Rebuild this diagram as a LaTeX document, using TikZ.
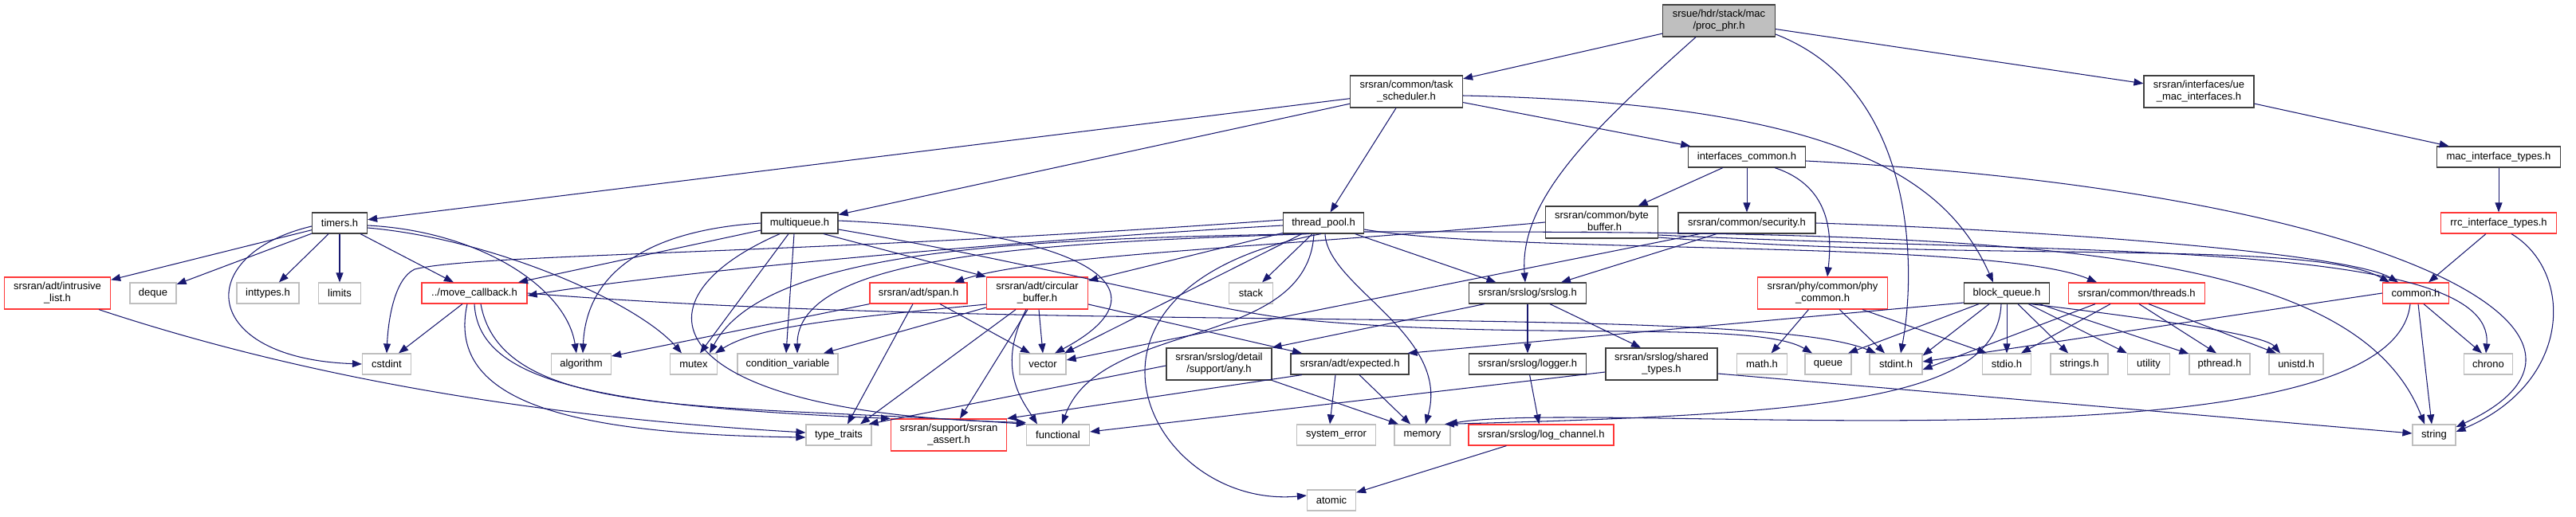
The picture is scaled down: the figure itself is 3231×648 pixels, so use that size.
\documentclass[tikz,border=0pt]{standalone}
\usepackage{fontspec}
\setmainfont{Liberation Sans}
\usetikzlibrary{arrows.meta}
\definecolor{mb}{HTML}{191970}
\definecolor{gb}{HTML}{BFBFBF}
\definecolor{rb}{HTML}{FF3838}
\definecolor{db}{HTML}{404040}
\newcommand\nf{\fontsize{13}{15}\selectfont}
\begin{document}
\begin{tikzpicture}[x=1pt,y=-1pt,
 nb/.style={draw=db, line width=1.2pt, fill=white, minimum height=26pt, inner sep=0pt, font=\nf, align=center, text=black},
 ng/.style={nb, draw=gb},
 nr/.style={nb, draw=rb},
 tl/.style={minimum height=40pt},
 e/.style={draw=mb, line width=1.05pt, -{Triangle[length=12pt,width=9pt]}}]
\fill[white] (0,0) rectangle (3231,648);
\useasboundingbox (0,0) rectangle (3231,648);
% level 0-3
\node[nb,fill=gb,tl,minimum width=141pt] (proc) at (2156,26) {srsue/hdr/stack/mac\\/proc\_phr.h};
\node[nb,tl,minimum width=141pt] (task) at (1764,115) {srsran/common/task\\\_scheduler.h};
\node[nb,tl,minimum width=138pt] (uemac) at (2758,115) {srsran/interfaces/ue\\\_mac\_interfaces.h};
\node[nb,minimum width=147pt] (ifc) at (2191,197) {interfaces\_common.h};
\node[nb,minimum width=155pt] (mact) at (3134,197) {mac\_interface\_types.h};
\node[nb,minimum width=69pt] (timers) at (426,280) {timers.h};
\node[nb,minimum width=96pt] (mq) at (1003,280) {multiqueue.h};
\node[nb,minimum width=101pt] (tp) at (1660,280) {thread\_pool.h};
\node[nb,tl,minimum width=141pt] (bb) at (2009,279) {srsran/common/byte\\\_buffer.h};
\node[nb,minimum width=172pt] (sec) at (2191,280) {srsran/common/security.h};
\node[nr,minimum width=145pt] (rrc) at (3134,280) {rrc\_interface\_types.h};
% level 4
\node[nr,tl,minimum width=133pt] (intr) at (72,368) {srsran/adt/intrusive\\\_list.h};
\node[ng,minimum width=58pt] (deque) at (192,368) {deque};
\node[ng,minimum width=78pt] (inttypes) at (336,368) {inttypes.h};
\node[ng,minimum width=53pt] (limits) at (426,368) {limits};
\node[nr,minimum width=132pt] (movecb) at (595,368) {../move\_callback.h};
\node[nr,minimum width=122pt] (span) at (1152,368) {srsran/adt/span.h};
\node[nr,tl,minimum width=127pt] (circ) at (1301,368) {srsran/adt/circular\\\_buffer.h};
\node[ng,minimum width=55pt] (stack) at (1569,368) {stack};
\node[nb,minimum width=147pt] (srslog) at (1916,368) {srsran/srslog/srslog.h};
\node[nr,tl,minimum width=163pt] (phy) at (2286,368) {srsran/phy/common/phy\\\_common.h};
\node[nb,minimum width=107pt] (bq) at (2517,368) {block\_queue.h};
\node[nr,minimum width=171pt] (threads) at (2680,368) {srsran/common/threads.h};
\node[nr,minimum width=83pt] (common) at (3030,368) {common.h};
% level 5
\node[ng,minimum width=61pt] (cstdint) at (485,457) {cstdint};
\node[ng,minimum width=75pt] (algorithm) at (729,457) {algorithm};
\node[ng,minimum width=59pt] (mutex) at (870,457) {mutex};
\node[ng,minimum width=126pt] (condvar) at (988,457) {condition\_variable};
\node[ng,minimum width=58pt] (vector) at (1308,457) {vector};
\node[nb,tl,minimum width=132pt] (any) at (1529,457) {srsran/srslog/detail\\/support/any.h};
\node[nb,minimum width=148pt] (expected) at (1693,457) {srsran/adt/expected.h};
\node[nb,minimum width=147pt] (logger) at (1916,457) {srsran/srslog/logger.h};
\node[nb,tl,minimum width=140pt] (shared) at (2084,457) {srsran/srslog/shared\\\_types.h};
\node[ng,minimum width=63pt] (math) at (2210,457) {math.h};
\node[ng,minimum width=58pt] (queue) at (2293,457) {queue};
\node[ng,minimum width=66pt] (stdinth) at (2378,457) {stdint.h};
\node[ng,minimum width=61pt] (stdio) at (2517,457) {stdio.h};
\node[ng,minimum width=72pt] (strings) at (2608,457) {strings.h};
\node[ng,minimum width=53pt] (utility) at (2695,457) {utility};
\node[ng,minimum width=76pt] (pthread) at (2784,457) {pthread.h};
\node[ng,minimum width=68pt] (unistd) at (2880,457) {unistd.h};
\node[ng,minimum width=61pt] (chrono) at (3121,457) {chrono};
% level 6-7
\node[ng,minimum width=82pt] (typetraits) at (1052,546) {type\_traits};
\node[nr,tl,minimum width=145pt] (assert) at (1190,546) {srsran/support/srsran\\\_assert.h};
\node[ng,minimum width=79pt] (functional) at (1327,546) {functional};
\node[ng,minimum width=99pt] (syserr) at (1676,546) {system\_error};
\node[ng,minimum width=70pt] (memory) at (1784,546) {memory};
\node[nr,minimum width=182pt] (logch) at (1933,546) {srsran/srslog/log\_channel.h};
\node[ng,minimum width=54pt] (string) at (3053,546) {string};
\node[ng,minimum width=61pt] (atomic) at (1670,628) {atomic};

% proc
\draw[e] (proc) -- (task);
\draw[e] (proc) -- (uemac);
\draw[e] ([xshift=-29pt]proc.south) .. controls (2000,160) and (1905,250) .. ([xshift=-3pt]srslog.north);
\draw[e] ([yshift=-17pt]proc.east) .. controls (2400,110) and (2405,330) .. ([xshift=6pt]stdinth.north);
% task
\draw[e] (task) -- (timers);
\draw[e] (task) -- (mq);
\draw[e] (task) -- (tp);
\draw[e] (task) -- (ifc);
\draw[e] ([yshift=-5pt]task.east) .. controls (2300,130) and (2440,220) .. ([xshift=-17pt]bq.north);
\draw[e] (uemac) -- (mact);
\draw[e] (mact) -- (rrc);
\draw[e] (rrc) -- (common);
\draw[e] ([xshift=16pt]rrc.south) .. controls (3228,340) and (3228,480) .. ([yshift=4pt]string.east);
% ifc
\draw[e] (ifc) -- (bb);
\draw[e] (ifc) -- (sec);
\draw[e] ([xshift=35pt]ifc.south) .. controls (2300,235) and (2297,300) .. ([xshift=6pt]phy.north);
\draw[e] ([yshift=-5pt]ifc.east) .. controls (3000,240) and (3330,420) .. ([yshift=10pt]string.east);
% timers
\draw[e] (timers) -- (intr);
\draw[e] (timers) -- (deque);
\draw[e] ([yshift=-4pt]timers.west) .. controls (240,320) and (250,450) .. (cstdint.west);
\draw[e] (timers) -- (inttypes);
\draw[e] (timers) -- (limits);
\draw[e] (timers) -- (movecb);
\draw[e] ([yshift=-3pt]timers.east) .. controls (600,290) and (710,360) .. ([xshift=-6pt]algorithm.north);
\draw[e] ([yshift=-6pt]timers.east) .. controls (620,300) and (800,380) .. ([xshift=-15pt]mutex.north);
% multiqueue
\draw[e] ([yshift=-9pt]mq.west) -- ([xshift=55pt]movecb.north);
\draw[e] (mq.west) .. controls (800,290) and (735,350) .. ([xshift=2pt]algorithm.north);
\draw[e] ([xshift=-14pt]mq.south) -- ([xshift=8pt]mutex.north);
\draw[e] ([xshift=-7pt]mq.south) -- ([xshift=-2pt]condvar.north);
\draw[e] ([xshift=30pt]mq.south) -- (circ.north west);
\draw[e] ([yshift=3pt]mq.east) .. controls (1350,290) and (1480,360) .. ([xshift=15pt]vector.north);
\draw[e] ([xshift=-25pt]mq.south) .. controls (780,380) and (830,520) .. ([yshift=2pt]functional.north west);
\draw[e] ([yshift=-8pt]mq.east) .. controls (1300,330) and (1500,385) .. (1610,399) .. controls (1900,430) and (2200,400) .. ([xshift=-20pt]queue.north);
% thread_pool
\draw[e] ([yshift=-3pt]tp.west) .. controls (1300,300) and (850,340) .. ([yshift=-3pt]movecb.east);
\draw[e] ([yshift=4pt]tp.west) .. controls (1000,320) and (600,318) .. (520,338) .. controls (495,350) and (487,400) .. (cstdint.north);
\draw[e] (tp) -- (circ);
\draw[e] ([xshift=-24pt]tp.south) .. controls (1300,300) and (960,310) .. ([xshift=20pt]mutex.north);
\draw[e] ([xshift=-18pt]tp.south) .. controls (1300,305) and (1000,320) .. ([xshift=12pt]condvar.north);
\draw[e] (tp) -- (vector);
\draw[e] (tp) -- (stack);
\draw[e] ([xshift=-12pt]tp.south) .. controls (1640,440) and (1380,400) .. ([xshift=5pt]functional.north);
\draw[e] ([xshift=-3pt]tp.south) .. controls (1300,360) and (1440,640) .. ([yshift=6pt]atomic.west);
\draw[e] ([xshift=2pt]tp.south) .. controls (1665,360) and (1820,420) .. ([xshift=4pt]memory.north);
\draw[e] (tp) -- (srslog);
\draw[e] ([yshift=-8pt]tp.east) .. controls (1900,320) and (2500,300) .. ([xshift=-50pt]threads.north);
\draw[e] ([yshift=-11pt]tp.east) .. controls (2500,290) and (2950,300) .. ([xshift=-12pt]string.north);
% byte_buffer
\draw[e] (bb.west) .. controls (1600,310) and (1300,320) .. ([xshift=45pt]span.north);
\draw[e] ([yshift=-19pt]bb.east) .. controls (2500,330) and (2900,300) .. ([xshift=-33pt]common.north);
\draw[e] ([yshift=-16pt]bb.east) .. controls (2600,320) and (3130,300) .. ([xshift=-3pt]chrono.north);
% security
\draw[e] (sec.east) .. controls (2600,290) and (2950,320) .. ([xshift=-22pt]common.north);
\draw[e] ([xshift=-38pt]sec.south) -- ([xshift=42pt]srslog.north);
\draw[e] ([xshift=-59pt]sec.south) -- ([yshift=5pt]vector.east);
% phy_common
\draw[e] (phy) -- (math);
\draw[e] (phy) -- (stdinth);
\draw[e] ([xshift=50pt]phy.south) -- ([xshift=-25pt]stdio.north);
% block_queue
\draw[e] ([yshift=-12pt]bq.west) -- ([xshift=-2pt]expected.north east);
\draw[e] ([xshift=-35pt]bq.south) -- ([xshift=25pt]queue.north);
\draw[e] ([xshift=-22pt]bq.south) -- ([yshift=-3pt]stdinth.north east);
\draw[e] ([xshift=-7pt]bq.south) .. controls (2505,500) and (2300,520) .. ([xshift=28pt]memory.north);
\draw[e] (bq) -- (stdio);
\draw[e] (bq) -- (strings);
\draw[e] (bq) -- (utility);
\draw[e] (bq) -- (pthread);
\draw[e] ([xshift=30pt]bq.south) .. controls (2700,400) and (2840,420) .. ([xshift=-20pt]unistd.north);
% threads
\draw[e] ([xshift=-52pt]threads.south) -- ([yshift=-7pt]stdinth.east);
\draw[e] ([xshift=-33pt]threads.south) -- ([xshift=18pt]stdio.north);
\draw[e] ([xshift=3pt]threads.south) -- ([xshift=-4pt]pthread.north);
\draw[e] ([xshift=15pt]threads.south) -- ([xshift=-25pt]unistd.north);
% common
\draw[e] (common.west) -- ([yshift=3pt]stdinth.east);
\draw[e] ([xshift=10pt]common.south) -- ([xshift=-8pt]chrono.north);
\draw[e] ([xshift=3pt]common.south) -- ([xshift=-3pt]string.north);
\draw[e] ([xshift=-7pt]common.south) .. controls (3000,600) and (2000,500) .. ([xshift=32pt]memory.north);
% srslog family
\draw[e] ([xshift=-54pt]srslog.south) -- (any.north east);
\draw[e] (srslog) -- (logger);
\draw[e] ([xshift=28pt]srslog.south) -- ([xshift=-26pt]shared.north);
\draw[e] (logger) -- (logch);
\draw[e] (logch) -- (atomic);
\draw[e] ([yshift=-10pt]shared.west) -- ([yshift=4pt]functional.east);
\draw[e] ([yshift=-12pt]shared.east) -- ([yshift=2pt]string.west);
% expected, any
\draw[e] ([xshift=-18pt]expected.south) -- ([xshift=-8pt]syserr.north);
\draw[e] ([xshift=12pt]expected.south) -- ([xshift=-15pt]memory.north);
\draw[e] ([xshift=-60pt]expected.south) -- (assert.north east);
\draw[e] ([yshift=-2pt]any.west) -- ([xshift=-4pt]typetraits.north east);
\draw[e] (any.south east) -- ([xshift=-30pt]memory.north);
% circular_buffer
\draw[e] ([yshift=-14pt]circ.west) .. controls (1050,400) and (950,410) .. ([xshift=27pt]mutex.north);
\draw[e] ([yshift=-18pt]circ.west) -- ([xshift=45pt]condvar.north);
\draw[e] ([xshift=-27pt]circ.south) -- ([xshift=27pt]typetraits.north);
\draw[e] ([xshift=-12pt]circ.south) -- ([xshift=14pt]assert.north);
\draw[e] ([xshift=-14pt]circ.south) .. controls (1250,460) and (1280,500) .. ([xshift=-26pt]functional.north);
\draw[e] ([xshift=2pt]circ.south) -- (vector.north);
\draw[e] ([yshift=-14pt]circ.east) -- ([xshift=-60pt]expected.north);
% span
\draw[e] (span.south west) -- ([yshift=10pt]algorithm.east);
\draw[e] ([xshift=-7pt]span.south) -- ([xshift=11pt]typetraits.north);
\draw[e] ([xshift=27pt]span.south) -- ([xshift=-16pt]vector.north);
% move_callback
\draw[e] ([xshift=-15pt]movecb.south) -- ([xshift=15pt]cstdint.north);
\draw[e] ([xshift=-9pt]movecb.south) .. controls (560,500) and (700,545) .. ([yshift=-3pt]typetraits.west);
\draw[e] (movecb.south) .. controls (600,480) and (750,510) .. (assert.north west);
\draw[e] ([xshift=8pt]movecb.south) .. controls (630,530) and (900,505) .. (functional.north west);
\draw[e] (movecb.east) .. controls (1300,420) and (2200,380) .. ([xshift=-25pt]stdinth.north);
% intrusive_list
\draw[e] ([xshift=52pt]intr.south) .. controls (400,480) and (700,525) .. ([yshift=3pt]typetraits.west);
\end{tikzpicture}
\end{document}
